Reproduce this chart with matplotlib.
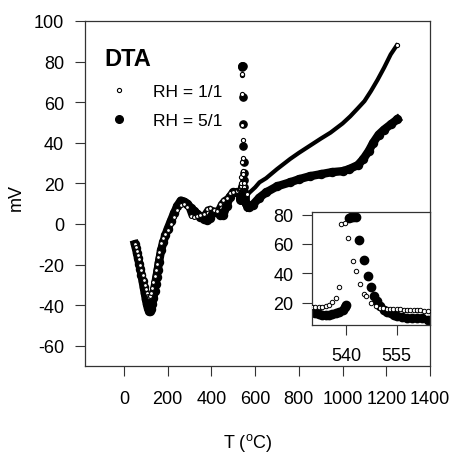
import numpy as np
import matplotlib
matplotlib.use('Agg')
import matplotlib.pyplot as plt
from matplotlib.lines import Line2D

plt.rcParams['font.family'] = ['Liberation Sans', 'DejaVu Sans']
plt.rcParams['mathtext.fontset'] = 'custom'
plt.rcParams['mathtext.rm'] = 'Liberation Sans'
plt.rcParams['axes.unicode_minus'] = False

# DTA curves, T in degC, signal in mV
# low temperature part (shared T grid)
t_low = [50, 55, 60, 65, 70, 75, 80, 85, 90, 95, 100, 105, 110, 115, 120, 125,
         130, 135, 140, 145, 150, 155, 160, 170, 180, 190, 200, 215, 230, 245,
         260, 275, 290, 305, 320, 335, 350, 365, 380, 395, 410, 425, 440, 455,
         470, 485, 500, 515, 525]
v_low_11 = [-10, -11.5, -13.5, -15.5, -17.5, -20, -22.5, -25, -27.5, -30, -32, -34,
            -35.5, -36, -35.5, -34, -31.5, -28.5, -25.5, -22.5, -19.5, -16.5, -14,
            -9.5, -7, -5, -3, 0, 3.5, 7, 9.5, 10, 8.5, 4, 3.5, 4, 4.5, 5, 7.5, 8,
            7, 6.5, 10, 12, 13, 15, 15.5, 16, 16.5]
v_low_51 = [-10, -12, -14.5, -17, -19.5, -22, -25, -28, -31, -34, -37, -39.5,
            -41.5, -42.8, -43, -42, -39.5, -36.5, -33, -29.5, -26, -22.5, -19,
            -13, -9, -5.5, -2.5, 1.5, 5.5, 9, 11.5, 11, 10, 8, 6.5, 5, 3.5, 2.5,
            2, 3, 6, 6, 4.5, 4.5, 9, 13.5, 15.5, 15.5, 15]

# peak region (also shown in the inset)
t_pk_11 = [530, 531, 532, 533, 534, 535, 536, 537, 538, 538.6, 539.8, 540.7, 542,
           542.9, 544.2, 545.3, 546, 547.5, 548.8, 550, 551, 552, 553, 554, 555,
           556, 557, 558, 559, 560, 561, 562, 563, 564.3]
v_pk_11 = [17, 17, 17.5, 17.5, 18, 18.5, 20.3, 23, 30.5, 73.5, 74, 64, 48.5, 41.5,
           32.5, 26, 24.5, 20, 18, 16.5, 16.2, 16, 16, 16, 15.8, 15.8, 15.5, 15.5,
           15.3, 15.2, 15, 15, 14.8, 14.8]
t_pk_51 = [530, 531, 532, 533, 534, 535, 536, 537, 538, 539, 539.6, 540.1, 540.8,
           541.5, 542.2, 543, 543.9, 545.3, 546.4, 547.4, 548.3, 549.2, 550.2,
           551.2, 552.2, 553.2, 554.2, 555.2, 556.5, 558, 559.5, 561, 562.5, 564.3]
v_pk_51 = [13.5, 13, 12.5, 12, 12, 12, 12.5, 13, 14, 15.5, 17.5, 18.5, 77.5, 78,
           78, 78, 62.5, 49, 38.5, 30.5, 25, 21.5, 18, 15.5, 14, 13, 12, 11, 10.5,
           10, 10, 10, 9.5, 8.5]

# high temperature part
t_high_11 = [570, 600, 620, 650, 700, 760, 800, 850, 900, 945, 1000, 1035, 1070,
             1100, 1130, 1160, 1190, 1220, 1248]
v_high_11 = [15, 18, 20.5, 22.5, 27, 32, 35, 38.5, 42, 45, 49.5, 53, 57, 60.5,
             65.5, 71, 77, 83.5, 88]
t_high_51 = [570, 590, 620, 650, 700, 760, 800, 850, 900, 950, 1000, 1030, 1070,
             1095, 1120, 1140, 1165, 1190, 1220, 1250]
v_high_51 = [8.5, 9.5, 13, 15.5, 18.5, 20.5, 22, 23.5, 24.5, 25.5, 26, 27, 29, 32,
             36, 40, 44, 46.5, 49, 51.5]

x_ticks = [0, 200, 400, 600, 800, 1000, 1200, 1400]
y_ticks = [-60, -40, -20, 0, 20, 40, 60, 80, 100]
inset_x_ticks = [540, 555]
inset_y_ticks = [20, 40, 60, 80]

frame = '#333333'
fs = 13

fig = plt.figure(figsize=(4.51, 4.56), dpi=100)
ax = fig.add_axes([0.1885, 0.1952, 0.765, 0.7566])

# RH = 5/1 : big filled circles (dense -> thick band)
ax.plot(t_low, v_low_51, '-o', color='black', lw=6, ms=5.8, zorder=2)
ax.plot(t_high_51, v_high_51, '-o', color='black', lw=6, ms=5.8, zorder=2)
ax.plot(t_pk_51, v_pk_51, 'o', color='black', ms=5.2, zorder=2)
# RH = 1/1 : small open circles
ax.plot(t_low, v_low_11, '-', color='black', lw=3.0, zorder=3)
ax.plot(t_low, v_low_11, 'o', mfc='white', mec='black', ms=2.8, mew=0.8, zorder=3)
ax.plot(t_high_11, v_high_11, '-', color='black', lw=3.0, zorder=3)
ax.plot(t_high_11[-1:], v_high_11[-1:], 'o', mfc='white', mec='black', ms=3, mew=0.8, zorder=3)
ax.plot(t_pk_11, v_pk_11, 'o', mfc='white', mec='black', ms=3, mew=0.8, zorder=3)

ax.set_xlim(-178, 1400)
ax.set_ylim(-70, 100)
ax.set_xticks(x_ticks)
ax.set_yticks(y_ticks)
ax.tick_params(direction='out', length=7.2, width=0.8, color=frame, labelsize=fs)
ax.tick_params(axis='x', pad=10)
ax.tick_params(axis='y', pad=8)
for s in ax.spines.values():
    s.set_color(frame)
    s.set_linewidth(0.9)

ax.set_xlabel(r'T ($^{\mathrm{o}}$C)', fontsize=fs)
ax.xaxis.set_label_coords(0.471, -0.188)
ax.set_ylabel('mV', fontsize=fs)
ax.yaxis.set_label_coords(-0.174, 0.49)

handles = [Line2D([], [], ls='none', marker='o', mfc='white', mec='black', ms=3, mew=0.8),
           Line2D([], [], ls='none', marker='o', color='black', ms=5.5)]
leg = ax.legend(handles, ['RH = 1/1', 'RH = 5/1'], title='DTA', loc='upper left',
                bbox_to_anchor=(0.035, 0.945), frameon=False, fontsize=12.5,
                title_fontproperties={'weight': 'bold', 'size': 17},
                alignment='left', handlelength=1.7, handletextpad=1.1,
                labelspacing=0.8, borderaxespad=0)

# inset: zoom on the peak
axi = fig.add_axes([0.6918, 0.2851, 0.2616, 0.2478])
axi.plot(t_pk_51, v_pk_51, 'o', color='black', ms=6, zorder=2)
axi.plot(t_pk_11, v_pk_11, 'o', mfc='white', mec='black', ms=3.2, mew=0.7, zorder=3)
axi.set_xlim(530, 564.8)
axi.set_ylim(5, 81.7)
axi.set_xticks(inset_x_ticks)
axi.set_yticks(inset_y_ticks)
axi.tick_params(direction='out', length=7.2, width=0.8, color=frame, labelsize=fs)
axi.tick_params(axis='x', pad=9)
axi.tick_params(axis='y', pad=6)
for s in axi.spines.values():
    s.set_color(frame)
    s.set_linewidth(0.9)

fig.savefig('out.png', dpi=100)
